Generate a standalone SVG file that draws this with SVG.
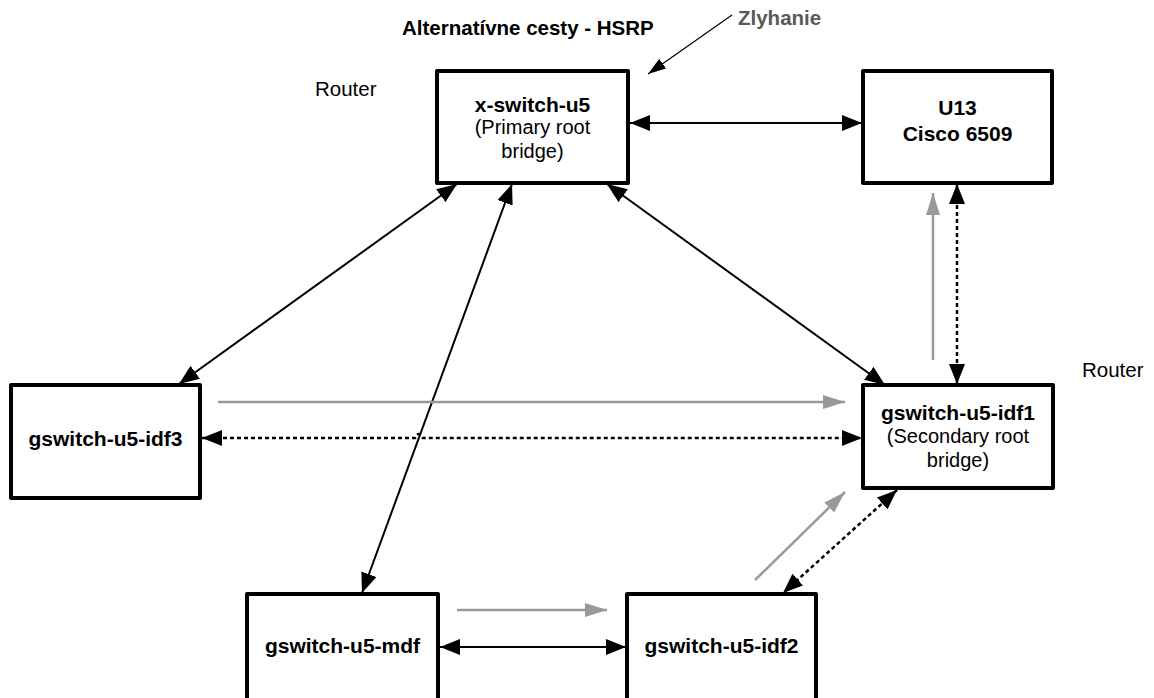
<svg xmlns="http://www.w3.org/2000/svg" width="1154" height="698" viewBox="0 0 1154 698">
<style>
.box{fill:#fff;stroke:#000;stroke-width:4;stroke-linejoin:round}
.b{font-family:"Liberation Sans",Arial,sans-serif;font-weight:bold;font-size:21px;fill:#000;text-anchor:middle}
.r{font-family:"Liberation Sans",Arial,sans-serif;font-size:20px;fill:#000;text-anchor:middle}
.lbl{font-family:"Liberation Sans",Arial,sans-serif;font-size:20.5px;fill:#000}
.blk{fill:none;stroke:#000;stroke-width:2}
.dot{fill:none;stroke:#000;stroke-width:2.5;stroke-dasharray:4 3}
.gry{fill:none;stroke:#999;stroke-width:2.5}
</style>
<defs>
<marker id="ah" viewBox="0 0 20 16" markerWidth="20" markerHeight="16" refX="20" refY="8" orient="auto-start-reverse" markerUnits="userSpaceOnUse"><path d="M0,0 L20,8 L0,16 Z" fill="#000"/></marker>
<marker id="gh" viewBox="0 0 22 14" markerWidth="22" markerHeight="14" refX="22" refY="7" orient="auto" markerUnits="userSpaceOnUse"><path d="M0,0 L22,7 L0,14 Z" fill="#999"/></marker>
<marker id="th" viewBox="0 0 18 12" markerWidth="18" markerHeight="12" refX="18" refY="6" orient="auto" markerUnits="userSpaceOnUse"><path d="M0,0 L18,6 L0,12 Z" fill="#000"/></marker>
</defs>

<g id="labels">
<text class="lbl" x="402" y="35" font-weight="bold" font-size="21">Alternatívne cesty - HSRP</text>
<text class="lbl" x="738" y="25" font-weight="bold" style="fill:#595959">Zlyhanie</text>
<text class="lbl" x="315" y="96">Router</text>
<text class="lbl" x="1082" y="377">Router</text>
</g>

<g id="connectors">
<line x1="732" y1="15" x2="648" y2="74" stroke="#000" stroke-width="1.2" marker-end="url(#th)"/>
<line class="blk" x1="630" y1="123" x2="862" y2="123" marker-start="url(#ah)" marker-end="url(#ah)"/>
<line class="blk" x1="457" y1="184" x2="179" y2="384" marker-start="url(#ah)" marker-end="url(#ah)"/>
<line class="blk" x1="512" y1="184" x2="362" y2="593" marker-start="url(#ah)" marker-end="url(#ah)"/>
<line class="blk" x1="607" y1="184" x2="885" y2="385" marker-start="url(#ah)" marker-end="url(#ah)"/>
<line class="dot" x1="957" y1="184" x2="957" y2="384" marker-start="url(#ah)" marker-end="url(#ah)"/>
<line class="gry" x1="933" y1="360" x2="933" y2="193" marker-end="url(#gh)"/>
<line class="gry" x1="218" y1="402" x2="845" y2="402" marker-end="url(#gh)"/>
<path class="dot" d="M202,438 H415 A4,4 0 0 1 423,438 H862" marker-start="url(#ah)" marker-end="url(#ah)"/>
<line class="gry" x1="457" y1="610" x2="607" y2="610" marker-end="url(#gh)"/>
<line class="blk" x1="440" y1="647" x2="626" y2="647" marker-start="url(#ah)" marker-end="url(#ah)"/>
<line class="gry" x1="755" y1="580" x2="845" y2="492" marker-end="url(#gh)"/>
<line class="dot" x1="897" y1="490" x2="783" y2="593" marker-start="url(#ah)" marker-end="url(#ah)"/>
</g>

<g id="x-switch-u5">
<rect class="box" x="437" y="71" width="191" height="112"/>
<text class="b" x="532.5" y="112">x-switch-u5</text>
<text class="r" x="532.5" y="134">(Primary root</text>
<text class="r" x="532.5" y="158">bridge)</text>
</g>

<g id="u13">
<rect class="box" x="863" y="71" width="189" height="112"/>
<text class="b" x="957.5" y="115">U13</text>
<text class="b" x="957.5" y="141">Cisco 6509</text>
</g>

<g id="gswitch-u5-idf3">
<rect class="box" x="11" y="385" width="189" height="113"/>
<text class="b" x="105.5" y="446">gswitch-u5-idf3</text>
</g>

<g id="gswitch-u5-idf1">
<rect class="box" x="863" y="385" width="190" height="103"/>
<text class="b" x="958" y="420">gswitch-u5-idf1</text>
<text class="r" x="958" y="443">(Secondary root</text>
<text class="r" x="958" y="467">bridge)</text>
</g>

<g id="gswitch-u5-mdf">
<rect class="box" x="247" y="594" width="191" height="120"/>
<text class="b" x="342.5" y="653">gswitch-u5-mdf</text>
</g>

<g id="gswitch-u5-idf2">
<rect class="box" x="627" y="594" width="189" height="120"/>
<text class="b" x="721.5" y="653">gswitch-u5-idf2</text>
</g>
</svg>
